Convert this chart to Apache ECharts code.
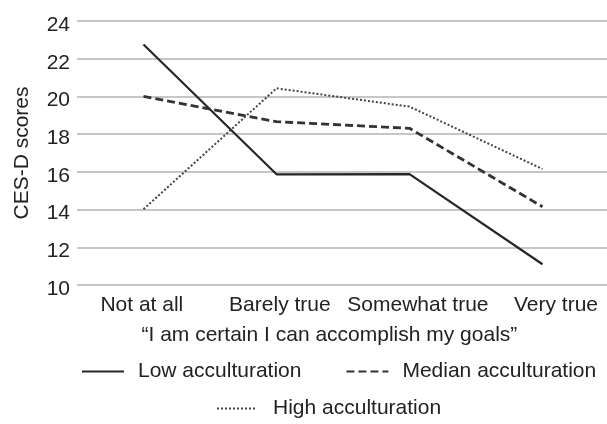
<!DOCTYPE html>
<html><head><meta charset="utf-8">
<script src="https://cdn.jsdelivr.net/npm/echarts@6/dist/echarts.min.js"></script>
<style>html,body{margin:0;padding:0;background:#fff}#c{width:607px;height:424px}</style>
</head><body><div id="c"></div>
<script>
var categories = ['Not at all', 'Barely true', 'Somewhat true', 'Very true'];
var lowAcc = [22.75, 15.87, 15.88, 11.1];
var medianAcc = [20.0, 18.66, 18.31, 14.15];
var highAcc = [14.02, 20.43, 19.46, 16.15];
var yTicks = {min: 10, max: 24, interval: 2};
var font = 'Liberation Sans, Arial, Helvetica, sans-serif';
var txt = '#222';
var fs = 21;
var chart = echarts.init(document.getElementById('c'));
chart.setOption({
  animation: false,
  textStyle: {fontFamily: font},
  grid: [
    {left: 77, top: 21, width: 532, height: 264, outerBoundsMode: 'none', containLabel: false},
    {left: 72.8, top: 21, width: 552.2, height: 264, outerBoundsMode: 'none', containLabel: false}
  ],
  legend: [{
    data: ['Low acculturation', 'Median acculturation'],
    top: 361, left: 81, padding: 0, itemWidth: 42, itemHeight: 22, itemGap: 44,
    itemStyle: {opacity: 0},
    textStyle: {fontSize: fs, color: txt, fontFamily: font, padding: [0, 0, 0, 9]}
  }, {
    data: ['High acculturation'],
    top: 398, left: 216, padding: 0, itemWidth: 39, itemHeight: 22,
    itemStyle: {opacity: 0},
    textStyle: {fontSize: fs, color: txt, fontFamily: font, padding: [0, 0, 0, 12]}
  }],
  xAxis: [{
    type: 'category', data: categories, boundaryGap: true, gridIndex: 0,
    axisLine: {show: false}, axisTick: {show: false}, axisLabel: {show: false}
  }, {
    type: 'category', data: categories, boundaryGap: true, gridIndex: 1,
    axisLine: {show: false}, axisTick: {show: false}, splitLine: {show: false},
    axisLabel: {fontSize: fs, color: txt, margin: 10, interval: 0},
    name: '\u201cI am certain I can accomplish my goals\u201d',
    nameLocation: 'middle', nameGap: 40,
    nameTextStyle: {fontSize: fs, color: txt, padding: [0, 39, 0, 0]}
  }],
  yAxis: [{
    type: 'value', min: yTicks.min, max: yTicks.max, interval: yTicks.interval, gridIndex: 0,
    axisLine: {show: false}, axisTick: {show: false},
    axisLabel: {
      margin: 7, formatter: '{v|{value}}',
      rich: {v: {fontSize: fs, color: txt, fontFamily: font, padding: [8, 0, 0, 0]}}
    },
    splitLine: {lineStyle: {color: '#b3b3b3', width: 1.5}},
    name: 'CES-D scores', nameLocation: 'middle', nameGap: 44,
    nameTextStyle: {fontSize: fs, color: txt}
  }, {
    type: 'value', min: yTicks.min, max: yTicks.max, gridIndex: 1, show: false
  }],
  series: [{
    name: 'Low acculturation', type: 'line', data: lowAcc, symbol: 'none',
    xAxisIndex: 0, yAxisIndex: 0,
    lineStyle: {color: '#262626', width: 2.2, type: 'solid'}, itemStyle: {color: '#262626'}
  }, {
    name: 'Median acculturation', type: 'line', data: medianAcc, symbol: 'none',
    xAxisIndex: 0, yAxisIndex: 0,
    lineStyle: {color: '#333', width: 2.8, type: [8, 4]}, itemStyle: {color: '#333'}
  }, {
    name: 'High acculturation', type: 'line', data: highAcc, symbol: 'none',
    xAxisIndex: 0, yAxisIndex: 0,
    lineStyle: {color: '#444', width: 2, type: [2, 2]}, itemStyle: {color: '#444'}
  }]
});
</script></body></html>
